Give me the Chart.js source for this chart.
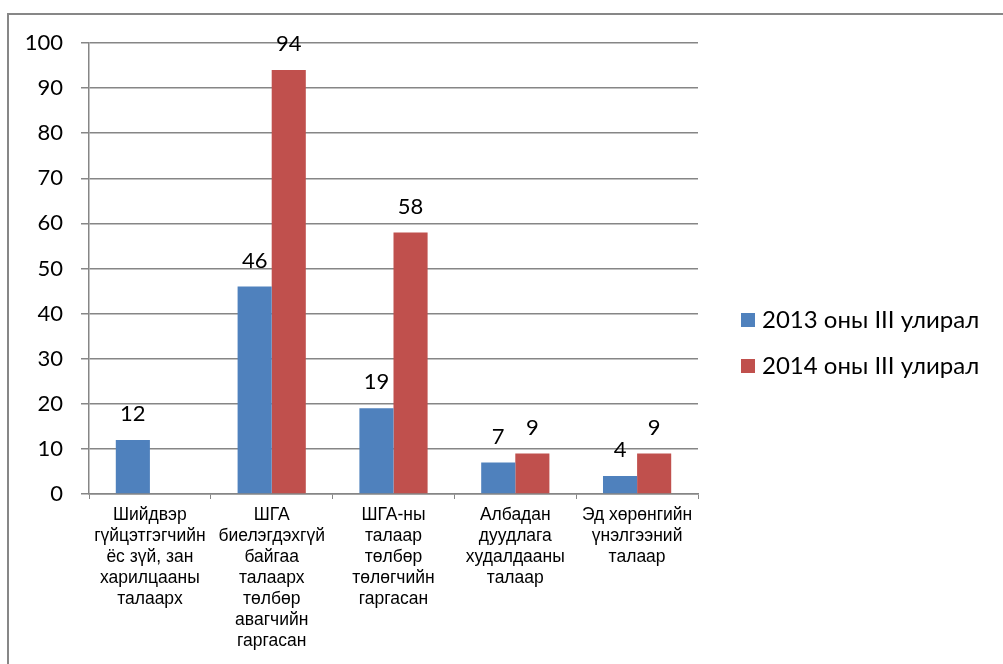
<!DOCTYPE html>
<html>
<head>
<meta charset="utf-8">
<script src="https://cdn.jsdelivr.net/npm/chart.js@4/dist/chart.umd.min.js"></script>
<style>
  html, body { margin: 0; padding: 0; background: #fff; overflow: hidden; }
  #wrap { position: relative; width: 1003px; height: 664px; }
  #frame { position: absolute; left: 7px; top: 13px; width: 1100px; height: 800px; border: 2px solid #878787; }
  #chart { position: absolute; left: 0; top: 0; }
</style>
</head>
<body>
<div id="wrap">
  <div id="frame"></div>
  <canvas id="chart" width="1003" height="664"></canvas>
</div>
<script>
var categories = [
	["Шийдвэр", "гүйцэтгэгчийн", "ёс зүй, зан", "харилцааны", "талаарх"],
	["ШГА", "биелэгдэхгүй", "байгаа", "талаарх", "төлбөр", "авагчийн", "гаргасан"],
	["ШГА-ны", "талаар", "төлбөр", "төлөгчийн", "гаргасан"],
	["Албадан", "дуудлага", "худалдааны", "талаар"],
	["Эд хөрөнгийн", "үнэлгээний", "талаар"]
];
var seriesNames = ["2013 оны III улирал", "2014 оны III улирал"];
var values2013 = [12, 46, 19, 7, 4];
var values2014 = [null, 94, 58, 9, 9];
var yTicks = [0, 10, 20, 30, 40, 50, 60, 70, 80, 90, 100];

var gridColor = "#868686";

// value labels above each bar
var barLabels = {
	id: "barLabels",
	afterDatasetsDraw: function(chart) {
		var ctx = chart.ctx;
		ctx.save();
		ctx.font = "22px Lato";
		ctx.fillStyle = "#000";
		ctx.textAlign = "center";
		ctx.textBaseline = "middle";
		chart.data.datasets.forEach(function(ds, i) {
			chart.getDatasetMeta(i).data.forEach(function(bar, j) {
				if (ds.data[j] == null) return;
				ctx.fillText(String(ds.data[j]), bar.x, bar.y - 26);
			});
		});
		ctx.restore();
	}
};

// legend on the right, one row per dataset
var sideLegend = {
	id: "sideLegend",
	afterDraw: function(chart) {
		var ctx = chart.ctx;
		var x = chart.chartArea.right + 43;
		var y = 320;
		ctx.save();
		ctx.font = "24px Lato";
		ctx.textBaseline = "middle";
		chart.data.datasets.forEach(function(ds, i) {
			var cy = y + i * 46;
			ctx.fillStyle = ds.backgroundColor;
			ctx.fillRect(x, cy - 7, 14, 14);
			ctx.fillStyle = "#000";
			ctx.fillText(ds.label, x + 21, cy);
		});
		ctx.restore();
	}
};

new Chart(document.getElementById("chart").getContext("2d"), {
	type: "bar",
	data: {
		labels: categories,
		datasets: [{
			label: seriesNames[0],
			data: values2013,
			backgroundColor: "#4F81BD",
			borderWidth: 0
		}, {
			label: seriesNames[1],
			data: values2014,
			backgroundColor: "#C0504D",
			borderWidth: 0
		}]
	},
	options: {
		responsive: false,
		animation: false,
		events: [],
		layout: { padding: { left: 0, top: 43, right: 305, bottom: 0 } },
		datasets: { bar: { barPercentage: 1, categoryPercentage: 0.56 } },
		plugins: {
			tooltip: { enabled: false },
			legend: { display: false }
		},
		scales: {
			x: {
				grid: { drawOnChartArea: false, drawTicks: true, tickLength: 5, color: gridColor, offset: true },
				border: { display: true, color: gridColor, width: 1.5 },
				ticks: {
					color: "#000",
					padding: 6,
					maxRotation: 0,
					autoSkip: false,
					font: { family: "Liberation Sans", size: 17.5, lineHeight: 1.2 }
				},
				afterFit: function(scale) { scale.height = 170; }
			},
			y: {
				min: 0,
				max: 100,
				afterBuildTicks: function(scale) {
					scale.ticks = yTicks.map(function(v) { return { value: v }; });
				},
				grid: { color: gridColor, lineWidth: 1.5, tickLength: 8 },
				border: { display: true, color: gridColor, width: 1.5 },
				ticks: {
					color: "#000",
					padding: 18,
					font: { family: "Lato", size: 22 }
				},
				afterFit: function(scale) { scale.width = 89; }
			}
		}
	},
	plugins: [barLabels, sideLegend]
});
</script>
</body>
</html>
